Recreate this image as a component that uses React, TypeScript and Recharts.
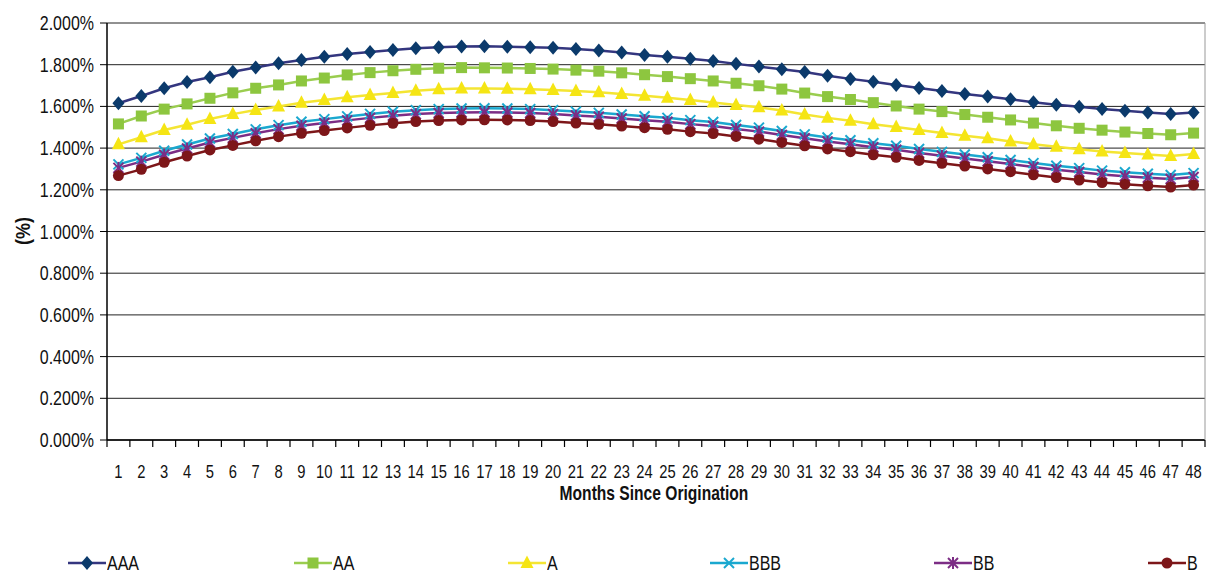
import { LineChart, Line, XAxis, YAxis, CartesianGrid, Legend } from 'recharts';

const months = Array.from({ length: 48 }, (_, i) => String(i + 1));

const aaa = [1.615, 1.650, 1.687, 1.717, 1.740, 1.766, 1.787, 1.807, 1.822, 1.838, 1.851, 1.861, 1.870, 1.879, 1.884, 1.887, 1.888, 1.886, 1.884, 1.881, 1.875, 1.868, 1.858, 1.847, 1.838, 1.828, 1.818, 1.804, 1.791, 1.778, 1.765, 1.747, 1.732, 1.718, 1.703, 1.688, 1.674, 1.660, 1.647, 1.634, 1.620, 1.608, 1.598, 1.587, 1.579, 1.571, 1.564, 1.571];
const aa = [1.516, 1.554, 1.587, 1.612, 1.639, 1.665, 1.687, 1.703, 1.722, 1.736, 1.751, 1.762, 1.771, 1.778, 1.783, 1.786, 1.785, 1.784, 1.782, 1.779, 1.774, 1.769, 1.761, 1.752, 1.743, 1.733, 1.722, 1.711, 1.699, 1.683, 1.664, 1.647, 1.633, 1.618, 1.602, 1.587, 1.575, 1.561, 1.548, 1.535, 1.520, 1.507, 1.495, 1.486, 1.477, 1.470, 1.464, 1.472];
const a = [1.418, 1.452, 1.487, 1.512, 1.540, 1.563, 1.583, 1.600, 1.617, 1.631, 1.644, 1.655, 1.664, 1.675, 1.682, 1.686, 1.686, 1.685, 1.682, 1.679, 1.674, 1.668, 1.660, 1.651, 1.641, 1.631, 1.619, 1.607, 1.596, 1.580, 1.561, 1.545, 1.531, 1.514, 1.501, 1.487, 1.472, 1.459, 1.447, 1.432, 1.419, 1.407, 1.395, 1.384, 1.376, 1.369, 1.362, 1.372];
const bbb = [1.322, 1.353, 1.387, 1.417, 1.446, 1.468, 1.490, 1.510, 1.526, 1.539, 1.552, 1.564, 1.574, 1.582, 1.587, 1.590, 1.591, 1.590, 1.587, 1.582, 1.575, 1.569, 1.561, 1.553, 1.545, 1.534, 1.525, 1.511, 1.498, 1.482, 1.466, 1.451, 1.438, 1.423, 1.411, 1.396, 1.382, 1.369, 1.356, 1.343, 1.328, 1.315, 1.304, 1.292, 1.284, 1.277, 1.271, 1.280];
const bb = [1.305, 1.335, 1.368, 1.398, 1.427, 1.449, 1.471, 1.491, 1.507, 1.520, 1.533, 1.545, 1.555, 1.563, 1.568, 1.571, 1.572, 1.571, 1.568, 1.563, 1.556, 1.550, 1.542, 1.534, 1.526, 1.515, 1.506, 1.492, 1.479, 1.463, 1.447, 1.432, 1.419, 1.404, 1.392, 1.377, 1.363, 1.350, 1.337, 1.324, 1.309, 1.296, 1.285, 1.273, 1.265, 1.258, 1.252, 1.261];
const b = [1.268, 1.298, 1.332, 1.362, 1.391, 1.413, 1.435, 1.455, 1.471, 1.484, 1.497, 1.509, 1.519, 1.527, 1.532, 1.535, 1.536, 1.535, 1.532, 1.527, 1.520, 1.514, 1.506, 1.498, 1.490, 1.479, 1.470, 1.456, 1.443, 1.427, 1.411, 1.396, 1.383, 1.368, 1.356, 1.341, 1.327, 1.314, 1.300, 1.287, 1.272, 1.259, 1.247, 1.235, 1.227, 1.219, 1.213, 1.223];

const yTicks = [0, 0.2, 0.4, 0.6, 0.8, 1.0, 1.2, 1.4, 1.6, 1.8, 2.0];

const data = months.map((m, i) => ({
  month: m,
  AAA: aaa[i],
  AA: aa[i],
  A: a[i],
  BBB: bbb[i],
  BB: bb[i],
  B: b[i],
}));

// no narrow face available, so regular Liberation Sans is squeezed horizontally
const FONT = "'Liberation Sans', Arial, sans-serif";
const NARROW = 0.82;

const W = 1207;
const H = 574;
const PLOT_LEFT = 107;
const PLOT_RIGHT = 1205;
const STEP = (PLOT_RIGHT - PLOT_LEFT) / months.length;

type Shape = 'diamond' | 'square' | 'triangle' | 'cross' | 'star' | 'circle';

const series: { key: string; line: string; fill: string; shape: Shape; legendX: number }[] = [
  { key: 'AAA', line: '#34367f', fill: '#0b3a6b', shape: 'diamond', legendX: 68 },
  { key: 'AA', line: '#9acd4f', fill: '#8dc63f', shape: 'square', legendX: 294 },
  { key: 'A', line: '#f4e533', fill: '#f5e514', shape: 'triangle', legendX: 508 },
  { key: 'BBB', line: '#1aa8cf', fill: '#1aa8cf', shape: 'cross', legendX: 710 },
  { key: 'BB', line: '#7c2d85', fill: '#7c2d85', shape: 'star', legendX: 934 },
  { key: 'B', line: '#7d1619', fill: '#7d1619', shape: 'circle', legendX: 1148 },
];

function Marker({ cx, cy, shape, color }: { cx: number; cy: number; shape: Shape; color: string }) {
  switch (shape) {
    case 'diamond':
      return <polygon points={`${cx},${cy - 7} ${cx + 6},${cy} ${cx},${cy + 7} ${cx - 6},${cy}`} fill={color} />;
    case 'square':
      return <rect x={cx - 5.5} y={cy - 5.5} width={11} height={11} fill={color} />;
    case 'triangle':
      return <polygon points={`${cx},${cy - 7.5} ${cx + 6.5},${cy + 5} ${cx - 6.5},${cy + 5}`} fill={color} />;
    case 'cross':
      return (
        <g stroke={color} strokeWidth={2}>
          <line x1={cx - 5} y1={cy - 5} x2={cx + 5} y2={cy + 5} />
          <line x1={cx - 5} y1={cy + 5} x2={cx + 5} y2={cy - 5} />
        </g>
      );
    case 'star':
      return (
        <g stroke={color} strokeWidth={2}>
          <line x1={cx - 5} y1={cy - 5} x2={cx + 5} y2={cy + 5} />
          <line x1={cx - 5} y1={cy + 5} x2={cx + 5} y2={cy - 5} />
          <line x1={cx} y1={cy - 6} x2={cx} y2={cy + 6} />
        </g>
      );
    default:
      return <circle cx={cx} cy={cy} r={5.5} fill={color} />;
  }
}

// category labels with tick marks sitting between the categories
function MonthTick(props: any) {
  const { x, y, payload, index } = props;
  const axisY = y - 25;
  return (
    <g>
      <line x1={x - STEP / 2} y1={axisY} x2={x - STEP / 2} y2={axisY + 7} stroke="#000" strokeWidth={1.2} />
      {index === months.length - 1 && (
        <line x1={x + STEP / 2} y1={axisY} x2={x + STEP / 2} y2={axisY + 7} stroke="#000" strokeWidth={1.2} />
      )}
      <text
        transform={`translate(${x},${y}) scale(${NARROW},1)`}
        dy="0.71em"
        textAnchor="middle"
        fontSize={18}
        fontFamily={FONT}
        fill="#111"
      >
        {payload.value}
      </text>
    </g>
  );
}

function PercentTick(props: any) {
  const { x, y, payload } = props;
  return (
    <text
      transform={`translate(${x},${y}) scale(${NARROW},1)`}
      dy="0.36em"
      textAnchor="end"
      fontSize={19.5}
      fontFamily={FONT}
      fill="#111"
    >
      {`${Number(payload.value).toFixed(3)}%`}
    </text>
  );
}

function LegendRow() {
  return (
    <div style={{ position: 'relative', height: 70, fontFamily: FONT, fontSize: 19.5, color: '#111' }}>
      {series.map((s) => (
        <div
          key={s.key}
          style={{ position: 'absolute', left: s.legendX - 7, top: 49, display: 'flex', alignItems: 'center', height: 20 }}
        >
          <svg width={38} height={20} style={{ display: 'block' }}>
            <line x1={0} y1={10} x2={38} y2={10} stroke={s.line} strokeWidth={2.5} />
            <Marker cx={19} cy={10} shape={s.shape} color={s.fill} />
          </svg>
          <span style={{ display: 'inline-block', marginLeft: 1, transform: `scaleX(${NARROW})`, transformOrigin: 'left center' }}>
            {s.key}
          </span>
        </div>
      ))}
    </div>
  );
}

export default function App() {
  return (
    <div style={{ position: 'absolute', left: 0, top: 0, width: W, height: H, background: '#fff' }}>
      <LineChart width={W} height={H} data={data} margin={{ top: 23, right: 0, left: 7, bottom: 0 }}>
        <CartesianGrid vertical={false} stroke="#222" strokeWidth={1} />
        <XAxis
          dataKey="month"
          interval={0}
          padding={{ left: STEP / 2, right: STEP / 2 }}
          tick={<MonthTick />}
          tickLine={false}
          tickSize={7}
          tickMargin={18}
          height={64}
          axisLine={{ stroke: '#000', strokeWidth: 1.5 }}
          label={{
            content: (p: any) => {
              const vb = p.viewBox;
              return (
                <text
                  transform={`translate(${vb.x + vb.width / 2 - 2},500) scale(0.78,1)`}
                  textAnchor="middle"
                  fontSize={20}
                  fontWeight="bold"
                  fontFamily={FONT}
                  fill="#111"
                >
                  Months Since Origination
                </text>
              );
            },
          }}
        />
        <YAxis
          domain={[0, 2]}
          ticks={yTicks}
          interval={0}
          width={100}
          tickSize={7}
          tickMargin={6}
          tick={<PercentTick />}
          tickLine={{ stroke: '#000' }}
          axisLine={{ stroke: '#000', strokeWidth: 1.5 }}
          label={{
            content: () => (
              <text
                transform="translate(23,231) rotate(-90) scale(0.9,1)"
                dy="0.36em"
                textAnchor="middle"
                fontSize={20}
                fontWeight="bold"
                fontFamily={FONT}
                fill="#111"
              >
                (%)
              </text>
            ),
          }}
        />
        <YAxis
          yAxisId="edge"
          orientation="right"
          domain={[0, 2]}
          width={2}
          tick={false}
          tickLine={false}
          axisLine={{ stroke: '#999' }}
        />
        <Legend verticalAlign="bottom" height={70} content={() => <LegendRow />} />
        {series.map((s) => (
          <Line
            key={s.key}
            dataKey={s.key}
            stroke={s.line}
            strokeWidth={2.5}
            isAnimationActive={false}
            dot={(p: any) => <Marker key={`${s.key}-${p.index}`} cx={p.cx} cy={p.cy} shape={s.shape} color={s.fill} />}
            activeDot={false}
          />
        ))}
      </LineChart>
    </div>
  );
}
